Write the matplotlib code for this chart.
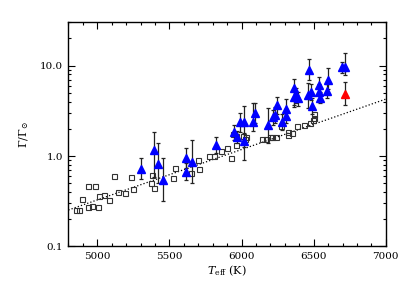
import numpy as np
import matplotlib
matplotlib.use('Agg')
import matplotlib.pyplot as plt
from matplotlib.ticker import FixedLocator, MultipleLocator, NullFormatter

plt.rcParams['font.family'] = 'DejaVu Serif'
plt.rcParams['mathtext.fontset'] = 'dejavuserif'

# open squares (no error bars)
sq_teff = [4853, 4874, 4897, 4938, 4938, 4966, 4987, 5003, 5010, 5047,
           5084, 5118, 5147, 5192, 5232, 5246, 5379, 5371, 5394, 5526,
           5538, 5651, 5700, 5706, 5777, 5806, 5856, 5901, 5929, 5941,
           5960, 5960, 6010, 6034, 6026, 6144, 6172, 6195, 6214, 6241,
           6275, 6320, 6322, 6351, 6384, 6430, 6472, 6494, 6503, 6504]
sq_gamma = [0.251, 0.256, 0.332, 0.463, 0.271, 0.282, 0.470, 0.271, 0.360, 0.368,
            0.325, 0.609, 0.397, 0.387, 0.590, 0.437, 0.620, 0.503, 0.446, 0.576,
            0.737, 0.644, 0.903, 0.715, 1.00, 1.00, 1.14, 1.22, 0.958, 1.75,
            1.66, 1.32, 1.66, 1.64, 1.54, 1.54, 1.55, 1.62, 1.63, 1.64,
            2.13, 1.86, 1.69, 1.78, 2.13, 2.22, 2.33, 2.50, 2.66, 2.90]

# blue triangles with error bars
tri_teff = [5301, 5393, 5418, 5457, 5616, 5612, 5660, 5821, 5950, 5967,
            5992, 6020, 6019, 6079, 6091, 6183, 6216, 6230, 6245, 6280,
            6306, 6310, 6366, 6375, 6363, 6391, 6467, 6460, 6483, 6490,
            6536, 6536, 6541, 6598, 6591, 6693, 6718]
tri_gamma = [0.718, 1.165, 0.810, 0.543, 0.943, 0.671, 0.865, 1.323, 1.84, 1.62,
             2.39, 2.39, 1.48, 2.39, 2.96, 2.20, 2.68, 2.84, 3.66, 2.39,
             3.28, 2.77, 5.60, 4.72, 4.52, 4.34, 8.92, 4.72, 5.13, 3.57,
             6.09, 5.13, 4.34, 6.92, 5.27, 9.55, 9.70]
tri_hi = [0.958, 1.856, 1.381, 0.943, 1.216, 0.830, 1.502, 1.634, 2.19, 1.90,
          2.96, 3.59, 1.80, 3.82, 3.88, 3.39, 3.25, 3.50, 4.52, 2.90,
          4.23, 3.30, 7.04, 5.60, 5.40, 5.10, 11.7, 6.36, 6.20, 4.40,
          7.52, 6.20, 5.10, 9.31, 6.30, 11.0, 13.6]
tri_lo = [0.561, 0.590, 0.499, 0.321, 0.731, 0.543, 0.507, 1.071, 1.51, 1.38,
          1.856, 1.27, 0.903, 1.90, 2.30, 1.39, 2.20, 2.30, 2.90, 1.95,
          2.54, 2.30, 3.51, 3.90, 3.70, 3.60, 7.0, 3.37, 4.20, 2.90,
          5.00, 4.20, 3.82, 5.50, 4.40, 8.20, 7.85]

# red triangle
red_teff = [6718]
red_gamma = [4.91]
red_hi = [6.62]
red_lo = [3.66]

# dotted trend line end points
fit_teff = [4800, 7000]
fit_gamma = [0.253, 4.26]

fig = plt.figure(figsize=(4.07, 2.91), dpi=100)
ax = fig.add_axes([0.168, 0.153, 0.780, 0.770])

ax.plot(fit_teff, fit_gamma, color='black', ls=':', lw=0.9)
ax.plot(sq_teff, sq_gamma, ls='none', marker='s', ms=3.6, mfc='none',
        mec='#333333', mew=0.8)

tri_g = np.array(tri_gamma)
yerr = [tri_g - np.array(tri_lo), np.array(tri_hi) - tri_g]
ax.errorbar(tri_teff, tri_gamma, yerr=yerr, fmt='none', ecolor='#222222',
            elinewidth=0.9, capsize=1.5, capthick=0.9)
ax.plot(tri_teff, tri_gamma, ls='none', marker='^', ms=5.4, color='#0000ff', mec='#0000ff')

red_g = np.array(red_gamma)
ax.errorbar(red_teff, red_gamma, yerr=[red_g - np.array(red_lo), np.array(red_hi) - red_g],
            fmt='none', ecolor='#222222', elinewidth=0.9, capsize=1.5, capthick=0.9)
ax.plot(red_teff, red_gamma, ls='none', marker='^', ms=5.4, color='#ff0000', mec='#ff0000')

ax.set_yscale('log')
ax.set_xlim(4800, 7000)
ax.set_ylim(0.1, 30)
ax.xaxis.set_major_locator(MultipleLocator(500))
ax.xaxis.set_minor_locator(MultipleLocator(100))
ax.yaxis.set_major_locator(FixedLocator([0.1, 1.0, 10.0]))
ax.set_yticklabels(['0.1', '1.0', '10.0'])
ax.yaxis.set_minor_formatter(NullFormatter())

ax.tick_params(which='both', direction='in', top=True, right=True, labelsize=7.5, width=0.8)
ax.tick_params(which='major', length=5, pad=4)
ax.tick_params(which='minor', length=2.5)
for s in ax.spines.values():
    s.set_linewidth(1.0)

ax.set_xlabel(r'$T_{\rm eff}$ (K)', fontsize=8, labelpad=2)
ax.set_ylabel(r'$\Gamma/\Gamma_{\odot}$', fontsize=8, labelpad=6)

fig.savefig('out.png', dpi=100)
